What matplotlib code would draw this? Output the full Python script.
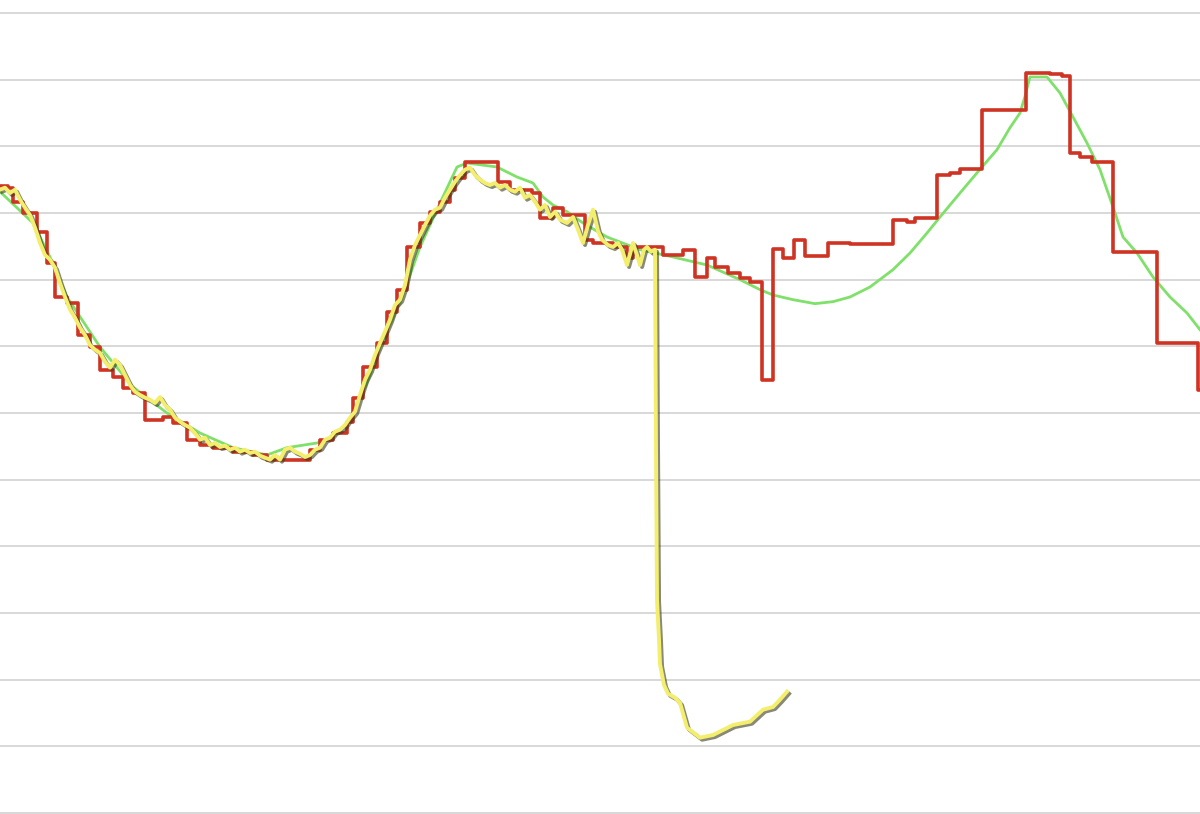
import numpy as np
import matplotlib
matplotlib.use("Agg")
import matplotlib.pyplot as plt
import matplotlib.patheffects as pe

# x in hours, y in chart units (gridlines every 10)
red_x = [0.0, 0.16, 0.26, 0.46, 0.74, 0.94, 1.10, 1.34, 1.56, 1.80, 2.00, 2.26, 2.46,
         2.66, 2.90, 3.26, 3.46, 3.74, 4.00, 4.26, 4.66, 5.06, 5.34, 6.20, 6.40, 6.66,
         6.94, 7.06, 7.26, 7.54, 7.74, 7.94, 8.14, 8.40, 8.60, 8.80, 9.00, 9.10, 9.30,
         9.96, 10.20, 10.64, 10.80, 11.06, 11.26, 11.70, 11.86, 12.26, 12.54, 12.66,
         13.06, 13.26, 13.66, 13.90, 14.14, 14.30, 14.56, 14.80, 15.00, 15.24, 15.46,
         15.66, 15.88, 16.10, 16.56, 17.00, 17.86, 18.14, 18.30, 18.74, 19.00, 19.20,
         19.64, 20.52, 21.00, 21.24, 21.40, 21.60, 21.84, 22.26, 23.14, 23.96, 24.0]
red_y = [94.0, 93.8, 91.7, 90.0, 87.2, 82.5, 77.4, 76.5, 71.7, 69.9, 66.5, 65.4, 63.8,
         63.0, 59.0, 59.4, 58.5, 56.0, 55.2, 54.8, 54.2, 53.7, 53.0, 54.5, 56.0, 57.0,
         58.7, 62.3, 66.9, 70.5, 75.2, 78.5, 84.9, 88.5, 90.2, 91.7, 93.5, 95.3, 97.7,
         94.7, 93.5, 93.0, 89.3, 90.8, 89.7, 86.0, 85.5, 84.9, 83.3, 84.9,
         84.9, 83.7, 84.5, 80.4, 83.3, 81.9, 81.0, 80.3, 79.7, 65.0, 84.6,
         83.3, 86.0, 83.6, 85.5, 85.4, 89.0, 88.7, 89.3, 95.7, 96.0, 96.6,
         105.4, 111.0, 110.8, 110.6, 99.0, 98.4, 97.7, 84.2, 70.5, 63.5, 63.5]

green_x = [0.0, 0.66, 1.0, 1.34, 2.0, 2.66, 3.34, 4.0, 4.66, 5.34, 5.74, 6.34, 6.66, 7.0,
           7.34, 7.66, 8.0, 8.4, 8.8, 9.14, 9.34, 9.94, 10.34, 10.66, 10.86, 11.06, 11.34,
           11.66, 12.14, 12.8, 13.46, 14.14, 14.8, 15.2, 15.46, 15.86, 16.3, 16.66, 17.0,
           17.4, 17.86, 18.2, 18.54, 18.8, 19.2, 19.56, 19.94, 20.2, 20.4, 20.5, 20.6,
           20.94, 21.2, 21.46, 21.74, 22.0, 22.26, 22.46, 22.74, 23.06, 23.4, 23.74, 24.0]
green_y = [93.2, 88.5, 83.4, 77.4, 69.9, 63.9, 60.0, 57.0, 54.8, 53.7, 54.8, 55.5, 56.4,
           59.0, 64.5, 71.0, 76.5, 84.9, 91.5, 96.9, 97.5, 96.9, 95.4, 94.5, 92.4, 91.2,
           90.2, 88.5, 86.4, 84.5, 83.4, 82.2, 80.0, 78.5, 77.7, 77.0, 76.4, 76.7, 77.4,
           78.9, 81.5, 84.0, 87.0, 89.4, 93.0, 96.2, 99.5, 102.8, 105.0, 107.5, 110.4,
           110.4, 108.0, 104.4, 100.5, 96.5, 90.9, 86.4, 84.0, 80.4, 77.4, 75.0, 72.5]

yellow_x = [0.0, 0.1, 0.2, 0.3, 0.4, 0.5, 0.6, 0.7, 0.8, 0.9, 1.0, 1.1, 1.2, 1.3, 1.4,
            1.5, 1.6, 1.7, 1.8, 1.9, 2.0, 2.1, 2.2, 2.3, 2.4, 2.5, 2.6, 2.7, 2.8, 2.9,
            3.0, 3.1, 3.2, 3.3, 3.4, 3.5, 3.6, 3.7, 3.8, 3.9, 4.0, 4.1, 4.2, 4.3, 4.4,
            4.5, 4.6, 4.7, 4.8, 4.9, 5.0, 5.1, 5.2, 5.3, 5.4, 5.5, 5.6, 5.7, 5.8, 5.9,
            6.0, 6.1, 6.2, 6.3, 6.4, 6.5, 6.6, 6.7, 6.8, 6.9, 7.0, 7.1, 7.2, 7.3, 7.4,
            7.5, 7.6, 7.7, 7.8, 7.9, 8.0, 8.1, 8.2, 8.3, 8.4, 8.5, 8.6, 8.7, 8.8, 8.9,
            9.0, 9.1, 9.2, 9.3, 9.4, 9.5, 9.6, 9.7, 9.8, 9.9, 10.0, 10.1, 10.2, 10.3,
            10.4, 10.5, 10.6, 10.7, 10.8, 10.9, 11.0, 11.1, 11.2, 11.34, 11.46, 11.56,
            11.66, 11.76, 11.86, 11.96, 12.04, 12.16, 12.26, 12.36, 12.44, 12.54, 12.66,
            12.74, 12.8, 12.88, 12.94, 13.02, 13.1, 13.12, 13.14, 13.18, 13.2, 13.28,
            13.36, 13.5, 13.6, 13.74, 14.0, 14.26, 14.66, 15.0, 15.26, 15.46, 15.6, 15.74]
yellow_y = [93.5, 93.8, 93.0, 93.5, 92.0, 90.8, 89.7, 87.8, 85.5, 83.7, 83.0, 81.8, 79.5,
            77.4, 75.5, 74.3, 72.8, 71.7, 70.2, 69.5, 69.0, 67.7, 66.8, 68.0, 67.2, 65.7,
            64.2, 63.2, 62.7, 62.3, 62.0, 61.5, 62.4, 61.2, 60.5, 59.3, 58.7, 58.2, 57.8,
            57.0, 56.0, 56.3, 55.2, 55.5, 54.9, 55.1, 54.5, 54.8, 54.2, 54.5, 54.0, 54.2,
            53.6, 53.3, 53.0, 53.7, 53.0, 54.5, 54.8, 54.2, 53.9, 53.4, 53.7, 54.5, 54.8,
            56.0, 56.3, 57.2, 57.5, 58.2, 59.3, 60.2, 62.7, 65.0, 66.5, 68.7, 70.5, 72.2,
            74.0, 76.2, 77.0, 79.2, 83.0, 85.2, 86.7, 88.2, 89.6, 90.5, 90.8, 92.3, 93.5,
            94.7, 95.7, 96.5, 96.8, 95.7, 95.0, 94.5, 94.2, 94.5, 93.8, 94.2, 93.5, 93.2,
            93.8, 92.3, 92.7, 91.7, 90.5, 91.2, 89.4, 90.2, 89.0, 88.5, 89.4, 87.5,
            85.5, 88.2, 90.5, 87.3, 86.0, 85.2, 84.9, 85.5, 84.5, 82.2, 85.5,
            83.7, 82.2, 84.5, 84.9, 84.2, 84.5, 54.5, 32.0, 26.0, 22.3, 19.2,
            17.9, 17.3, 16.5, 12.8, 11.3, 11.7, 13.2, 13.7, 15.5, 15.9, 17.0, 18.2]

fig = plt.figure(figsize=(12, 8.14), dpi=100)
ax = fig.add_axes([0, 0, 1, 1])
ax.set_xlim(0, 24)
ax.set_ylim(-0.15, 121.95)
ax.set_yticks(np.arange(0, 121, 10))
ax.grid(axis="y", color="#d2d2d2", linewidth=1.2)
ax.set_axisbelow(True)
ax.tick_params(left=False, bottom=False, labelleft=False, labelbottom=False)
for s in ax.spines.values():
    s.set_visible(False)

ax.plot(green_x, green_y, color="#7fe06a", linewidth=2.0, zorder=2)
ax.step(red_x, red_y, where="post", color="#cf3323", linewidth=2.6, zorder=3)
ax.plot(yellow_x, yellow_y, color="#f3ef6c", linewidth=2.8, zorder=4,
        solid_joinstyle="round",
        path_effects=[pe.SimpleLineShadow(offset=(1.5, -1.5), shadow_color="#3a3a20", alpha=0.6),
                      pe.Normal()])

fig.savefig("out.png", dpi=100)
